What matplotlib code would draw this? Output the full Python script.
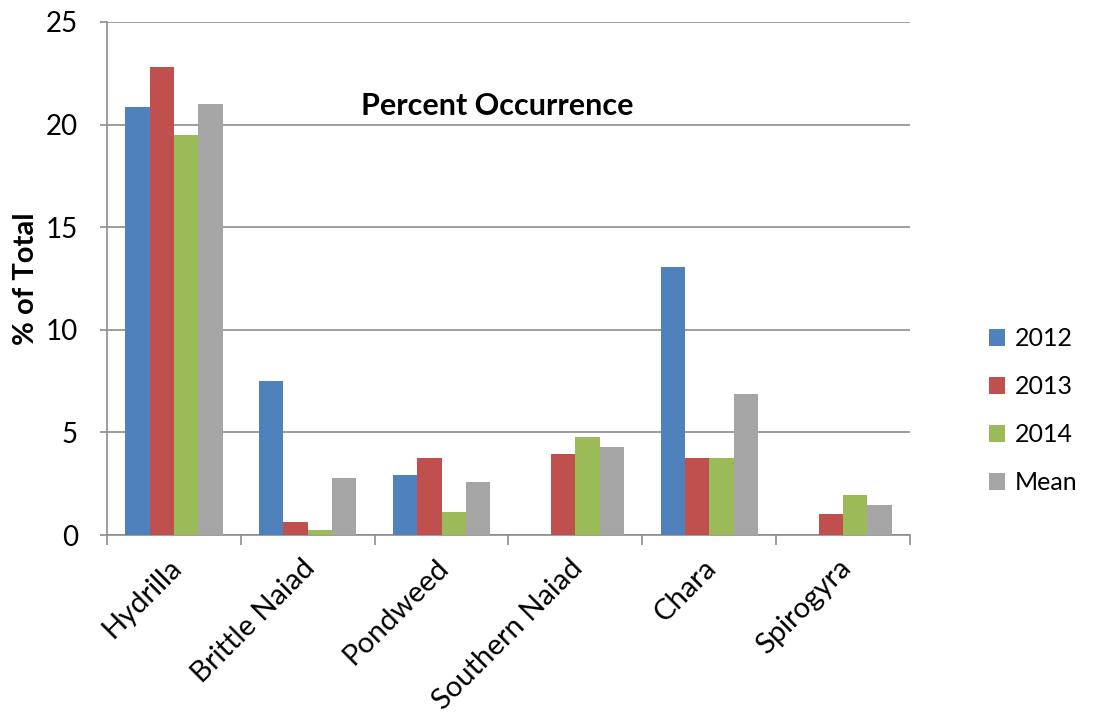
import numpy as np
import matplotlib.pyplot as plt
import matplotlib.transforms as mtransforms

# Werte
categories = ['Hydrilla', 'Brittle Naiad', 'Pondweed', 'Southern Naiad', 'Chara', 'Spirogyra']
series_names = ['2012', '2013', '2014', 'Mean']
v2012 = [20.85, 7.5, 2.9, 0.0, 13.05, 0.0]
v2013 = [22.8, 0.63, 3.74, 3.93, 3.74, 1.0]
v2014 = [19.5, 0.26, 1.14, 4.76, 3.74, 1.96]
vmean = [21.0, 2.79, 2.6, 4.3, 6.86, 1.45]
yticks = [0, 5, 10, 15, 20, 25]

colors = ['#4F81BD', '#C0504D', '#9BBB59', '#A5A5A5']
plt.rcParams['font.family'] = ['Lato', 'DejaVu Sans']

fig = plt.figure(figsize=(10.96, 7.19), dpi=100)
ax = fig.add_axes([107 / 1096, 1 - 535 / 719, (910 - 107) / 1096, (535 - 22) / 719])

x = np.arange(len(categories))
bw = 0.182
for k, (vals, name) in enumerate(zip([v2012, v2013, v2014, vmean], series_names)):
    ax.bar(x + (k - 1.5) * bw, vals, bw, color=colors[k], label=name, zorder=3)

ax.set_xlim(-0.5, len(categories) - 0.5)
ax.set_ylim(0, 25)
ax.set_yticks(yticks)
ax.set_yticklabels([str(t) for t in yticks], fontsize=20)
ax.yaxis.grid(True, color='#8c8c8c', linewidth=1.2, zorder=0)

# Striche zwischen den Kategorien
ax.set_xticks(np.arange(-0.5, len(categories), 1.0))
ax.set_xticklabels([])
ax.set_xticks(x, minor=True)
ax.set_xticklabels(categories, minor=True, rotation=45, ha='right', rotation_mode='anchor', fontsize=21)
ax.tick_params(axis='x', which='minor', length=0, pad=14)
ax.tick_params(axis='x', which='major', length=7, color='#8c8c8c', width=1.2)
ax.tick_params(axis='y', length=5, color='#8c8c8c', width=1.2, pad=16)

# Beschriftungen etwas nach links schieben
shift = mtransforms.ScaledTranslation(-6 / 100, 0, fig.dpi_scale_trans)
for lbl in ax.get_xticklabels(minor=True):
    lbl.set_transform(lbl.get_transform() + shift)

for s in ['top', 'right']:
    ax.spines[s].set_visible(False)
for s in ['left', 'bottom']:
    ax.spines[s].set_color('#8c8c8c')
    ax.spines[s].set_linewidth(1.2)

ax.set_ylabel('% of Total', fontsize=21, fontweight='bold', labelpad=5)
ax.text(0.486, 0.836, 'Percent Occurrence', transform=ax.transAxes, ha='center', va='center',
        fontsize=22, fontweight='bold')

ax.legend(loc='center left', bbox_to_anchor=(1.086, 0.242), frameon=False, fontsize=18,
          borderaxespad=0, handlelength=0.64, handleheight=0.64, labelspacing=1.0,
          handletextpad=0.4)

fig.savefig('out.png', dpi=100)
